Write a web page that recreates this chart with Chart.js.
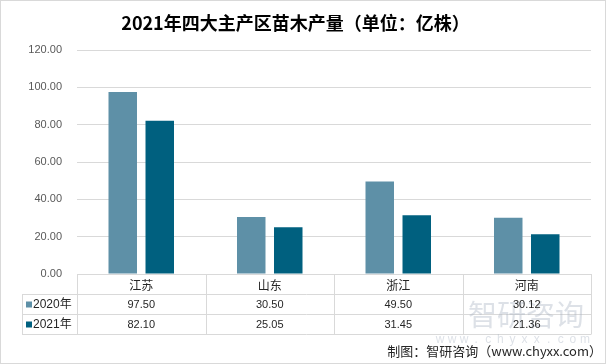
<!DOCTYPE html>
<html>
<head>
<meta charset="utf-8">
<script src="https://cdn.jsdelivr.net/npm/chart.js@4/dist/chart.umd.min.js"></script>
<style>
  html, body { margin: 0; padding: 0; background: #ffffff; }
  #wrap { width: 606px; height: 364px; position: relative; }
</style>
</head>
<body>
<div id="wrap"><canvas id="c" width="606" height="364"></canvas></div>
<script>
const titleText = '2021年四大主产区苗木产量（单位：亿株）';
const categories = ['江苏', '山东', '浙江', '河南'];
const seriesNames = ['2020年', '2021年'];
const values2020 = [97.50, 30.50, 49.50, 30.12];
const values2021 = [82.10, 25.05, 31.45, 21.36];
const yTickMin = 0;
const yTickMax = 120;
const yTickStep = 20;
const sourceText = '制图：智研咨询（www.chyxx.com）';
const watermarkName = '智研咨询';
const watermarkUrl = 'www.chyxx.com';

const colors = ['#5E90A7', '#00607F'];
const FONT = '"Liberation Sans", "Noto Sans CJK SC", sans-serif';
const CJK = '"Noto Sans CJK SC", "Liberation Sans", sans-serif';

const tablePlugin = {
  id: 'dataTable',
  beforeDraw(chart) {
    const ctx = chart.ctx;
    ctx.save();
    ctx.fillStyle = '#ffffff';
    ctx.fillRect(0, 0, chart.width, chart.height);
    ctx.restore();
  },
  afterDraw(chart) {
    const ctx = chart.ctx;
    const area = chart.chartArea;
    const xs = chart.scales.x;
    const n = categories.length;
    const catW = (area.right - area.left) / n;
    const rowH = 20;
    const top = area.bottom;
    const leftEdge = 22;
    const series = [values2020, values2021];

    ctx.save();
    ctx.strokeStyle = '#d9d9d9';
    ctx.lineWidth = 1;
    ctx.beginPath();
    for (let r = 1; r <= 3; r++) {
      const y = Math.round(top + r * rowH) + 0.5;
      ctx.moveTo(leftEdge, y);
      ctx.lineTo(area.right, y);
    }
    for (let i = 0; i <= n; i++) {
      const x = Math.round(area.left + i * catW) + 0.5;
      ctx.moveTo(x, top);
      ctx.lineTo(x, top + 3 * rowH + 0.5);
    }
    ctx.moveTo(leftEdge + 0.5, top + rowH);
    ctx.lineTo(leftEdge + 0.5, top + 3 * rowH + 0.5);
    ctx.stroke();

    // watermark (behind table text)
    ctx.fillStyle = 'rgba(170,180,195,0.4)';
    ctx.font = '29px ' + CJK;
    ctx.textAlign = 'left';
    ctx.textBaseline = 'middle';
    ctx.fillText(watermarkName, 468, 315);
    ctx.font = '12px ' + FONT;
    ctx.textAlign = 'center';
    const chars = watermarkUrl.split('');
    const x0 = 440, x1 = 585;
    chars.forEach((ch, i) => {
      ctx.fillText(ch, x0 + (x1 - x0) * i / (chars.length - 1), 340);
    });

    // values
    ctx.fillStyle = '#262626';
    ctx.font = '11px ' + FONT;
    ctx.textAlign = 'center';
    ctx.textBaseline = 'middle';
    for (let s = 0; s < series.length; s++) {
      const yc = top + rowH * (s + 1) + rowH / 2 + 0.5;
      for (let i = 0; i < n; i++) {
        ctx.fillText(series[s][i].toFixed(2), xs.getPixelForValue(i), yc);
      }
      ctx.fillStyle = colors[s];
      ctx.fillRect(26, yc - 3, 6, 6);
      ctx.fillStyle = '#262626';
      ctx.textAlign = 'left';
      ctx.font = '12px ' + FONT;
      ctx.fillText(seriesNames[s], 33, yc);
      ctx.font = '11px ' + FONT;
      ctx.textAlign = 'center';
    }

    // source
    ctx.fillStyle = '#262626';
    ctx.font = '13px ' + CJK;
    ctx.textAlign = 'right';
    ctx.textBaseline = 'middle';
    ctx.fillText(sourceText, 602, 351);

    // outer border
    ctx.strokeStyle = '#d9d9d9';
    ctx.strokeRect(0.5, 0.5, chart.width - 1, chart.height - 1);
    ctx.restore();
  }
};

new Chart(document.getElementById('c'), {
  type: 'bar',
  data: {
    labels: categories,
    datasets: [
      { label: seriesNames[0], data: values2020, backgroundColor: colors[0], categoryPercentage: 0.576, barPercentage: 0.77 },
      { label: seriesNames[1], data: values2021, backgroundColor: colors[1], categoryPercentage: 0.576, barPercentage: 0.77 }
    ]
  },
  options: {
    responsive: false,
    devicePixelRatio: 1,
    animation: false,
    layout: { padding: { left: 0, right: 15, top: 0, bottom: 0 } },
    plugins: {
      legend: { display: false },
      tooltip: { enabled: false },
      title: {
        display: true,
        text: titleText,
        color: '#000000',
        font: { size: 18, weight: 'bold', family: CJK },
        padding: { top: 12, bottom: 16.4 }
      }
    },
    scales: {
      y: {
        min: yTickMin,
        max: yTickMax,
        ticks: {
          stepSize: yTickStep,
          callback: v => Number(v).toFixed(2),
          color: '#595959',
          font: { size: 11, family: FONT },
          padding: 15
        },
        grid: { color: '#d9d9d9', drawTicks: false },
        border: { display: false },
        afterFit: s => { s.width = 77; }
      },
      x: {
        ticks: {
          color: '#262626',
          font: { size: 12, family: CJK },
          padding: 4
        },
        grid: { display: false, drawTicks: false },
        border: { display: false },
        afterFit: s => { s.height = 90; }
      }
    }
  },
  plugins: [tablePlugin]
});
</script>
</body>
</html>
